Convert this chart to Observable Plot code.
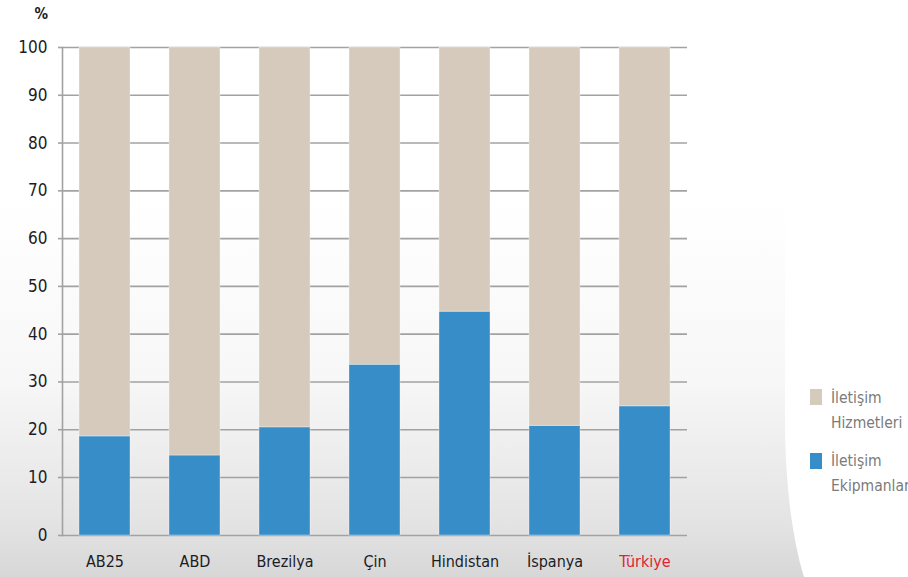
<!DOCTYPE html>
<html>
<head>
<meta charset="utf-8">
<script src="https://cdn.jsdelivr.net/npm/d3@7"></script>
<script src="https://cdn.jsdelivr.net/npm/@observablehq/plot@0.6"></script>
<style>
  html, body { margin: 0; padding: 0; }
  #wrap {
    position: relative; width: 908px; height: 577px; overflow: hidden;
    background: linear-gradient(to bottom, #ffffff 0px, #ffffff 200px, #f7f7f7 380px, #e4e4e4 520px, #d7d7d7 577px);
    font-family: "DejaVu Sans Condensed", "Liberation Sans Narrow", sans-serif;
  }
  #whitepanel {
    position: absolute; left: 785px; top: -10px; width: 200px; height: 630px;
    background: #ffffff; border-bottom-left-radius: 50px 200px;
  }
  #chart { position: absolute; left: 0; top: 0; }
  .legend { position: absolute; left: 810px; color: #7b7b7b; font-size: 15.5px; line-height: 25px; }
  .legend .sw { position: absolute; left: 0; width: 12px; height: 16px; }
  .legend .lbl { position: absolute; left: 21px; top: 0; white-space: nowrap; }
</style>
</head>
<body>
<div id="wrap">
  <div id="whitepanel"></div>
  <div id="chart"></div>
</div>
<script>
const categories = ["AB25", "ABD", "Brezilya", "Çin", "Hindistan", "İspanya", "Türkiye"];
const ekipmanlari = [18.6, 14.6, 20.5, 33.6, 44.7, 20.8, 24.9];
const hizmetleri = [81.4, 85.4, 79.5, 66.4, 55.3, 79.2, 75.1];
const seriesNames = ["İletişim Hizmetleri", "İletişim Ekipmanları"];
const seriesLines = [["İletişim", "Hizmetleri"], ["İletişim", "Ekipmanları"]];
const seriesColors = ["#d5cabb", "#368dc8"];
const yTicks = [0, 10, 20, 30, 40, 50, 60, 70, 80, 90, 100];
const highlight = "Türkiye";

const data = [];
categories.forEach((c, i) => {
  data.push({category: c, series: seriesNames[1], value: ekipmanlari[i]});
  data.push({category: c, series: seriesNames[0], value: hizmetleri[i]});
});

const fontFamily = '"DejaVu Sans Condensed", "Liberation Sans Narrow", sans-serif';

const plot = Plot.plot({
  width: 908,
  height: 577,
  marginLeft: 62,
  marginRight: 221,
  marginTop: 47,
  marginBottom: 42,
  style: {background: "transparent", fontFamily, fontSize: "16px", color: "#1c1c24"},
  x: {domain: categories, paddingInner: 0.435, paddingOuter: 0.177, label: null},
  y: {type: "linear", domain: [0, 10, 100], range: [535, 477, 47], label: null},
  color: {domain: seriesNames, range: seriesColors},
  marks: [
    Plot.ruleY(yTicks, {stroke: "#a2a2a2", strokeWidth: 1.6}),
    Plot.frame({anchor: "left", stroke: "#a2a2a2", strokeWidth: 1.6}),
    Plot.barY(data, {
      x: "category", y: "value", fill: "series",
      order: [seriesNames[1], seriesNames[0]],
      stroke: "#ffffff", strokeOpacity: 0.35, strokeWidth: 1
    }),
    Plot.axisY({ticks: yTicks, tickSize: 4, tickPadding: 11, stroke: "#a2a2a2", strokeWidth: 1.6, fill: "#1c1c24", fontSize: 17, label: null, tickFormat: d => String(d)}),
    Plot.axisX({tickSize: 0, tickPadding: 20, label: null, fill: d => d === highlight ? "#e2222f" : "#1c1c24"}),
    Plot.text(["%"], {frameAnchor: "top-left", dx: -28, dy: -39, fontWeight: "bold", fontSize: 15, fill: "#1c1c24"})
  ]
});
document.getElementById("chart").appendChild(plot);

const wrap = document.getElementById("wrap");
const legendTops = [386, 449];
const swatchTops = [389, 453];
seriesNames.forEach((s, i) => {
  const g = document.createElement("div");
  g.className = "legend";
  g.style.top = legendTops[i] + "px";
  const sw = document.createElement("div");
  sw.className = "sw";
  sw.style.background = seriesColors[i];
  sw.style.top = (swatchTops[i] - legendTops[i]) + "px";
  g.appendChild(sw);
  const lbl = document.createElement("div");
  lbl.className = "lbl";
  lbl.innerHTML = seriesLines[i].join("<br>");
  g.appendChild(lbl);
  wrap.appendChild(g);
});
</script>
</body>
</html>
